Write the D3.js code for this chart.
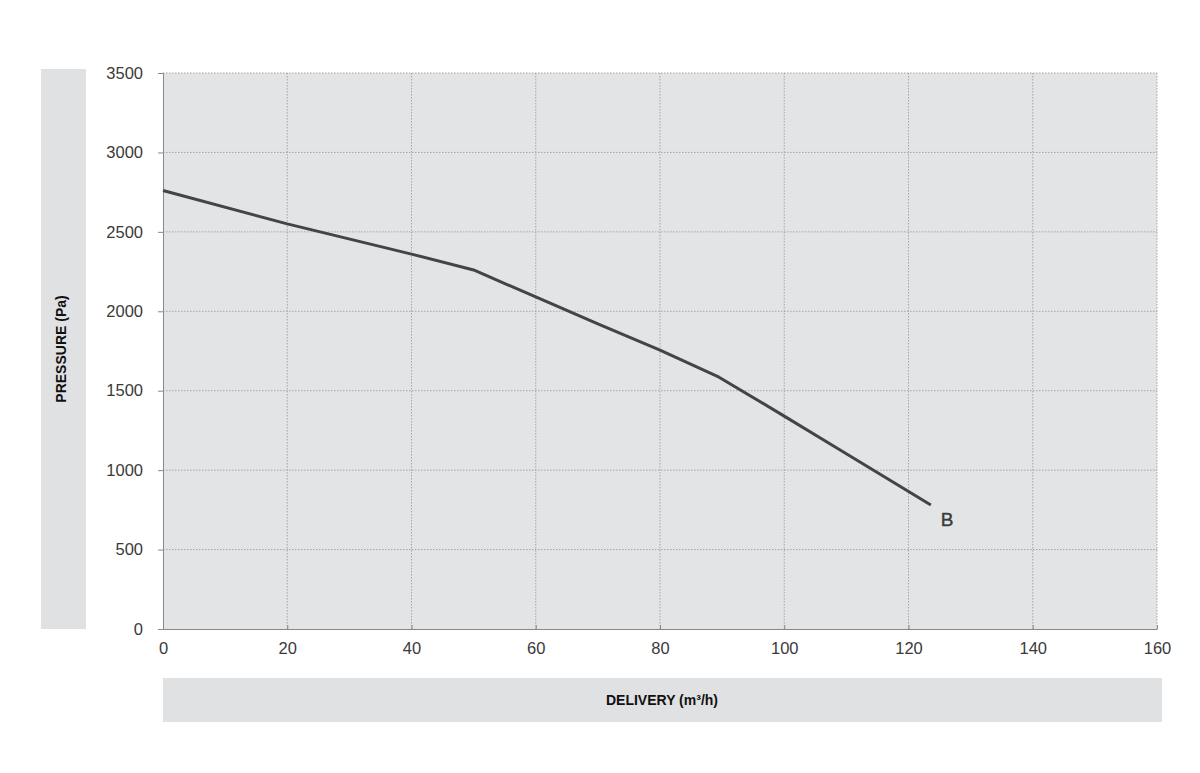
<!DOCTYPE html>
<html><head><meta charset="utf-8">
<script src="https://cdn.jsdelivr.net/npm/d3@7"></script>
<style>body{margin:0;background:#fff;} svg{display:block;}</style>
</head><body>
<script>
const xTicks = [0,20,40,60,80,100,120,140,160];
const yTicks = [0,500,1000,1500,2000,2500,3000,3500];
const deliveryVals = [0,20,40,50,60,70,80,89.5,100,108,123.6];
const pressureVals = [2760,2550,2360,2260,2090,1920,1755,1585,1340,1150,780];
const curveLabel = "B";
const xTitle = "DELIVERY (m³/h)";
const yTitle = "PRESSURE (Pa)";

const W=1200,H=773;
const svg=d3.select("body").append("svg").attr("width",W).attr("height",H);
const L=163,R=1157,T=73,B=629;
const x=d3.scaleLinear().domain([0,160]).range([L,R]);
const y=d3.scaleLinear().domain([0,3500]).range([B,T]);

// panels
svg.append("rect").attr("x",41).attr("y",69).attr("width",45).attr("height",560).attr("fill","#e0e1e3");
svg.append("rect").attr("x",163).attr("y",678).attr("width",999).attr("height",44).attr("fill","#e0e1e3");
svg.append("rect").attr("x",L).attr("y",T).attr("width",R-L).attr("height",B-T).attr("fill","#e3e4e6");

// grid
svg.append("g").selectAll("line").data(xTicks.slice(1)).join("line")
 .attr("x1",d=>x(d)).attr("x2",d=>x(d)).attr("y1",T).attr("y2",B)
 .attr("stroke","#a5a5a5").attr("stroke-width",1).attr("stroke-dasharray","1.5,1.5");
svg.append("g").selectAll("line").data(yTicks.slice(1)).join("line")
 .attr("x1",L).attr("x2",R).attr("y1",d=>y(d)).attr("y2",d=>y(d))
 .attr("stroke","#a5a5a5").attr("stroke-width",1).attr("stroke-dasharray","1.5,1.5");

// axes
const xAxis=svg.append("g").attr("transform",`translate(0,${B})`)
 .call(d3.axisBottom(x).tickValues(xTicks).tickFormat(d3.format("d")).tickSize(0).tickPadding(13));
xAxis.select(".domain").attr("stroke","#888");
const yAxis=svg.append("g").attr("transform",`translate(${L},0)`)
 .call(d3.axisLeft(y).tickValues(yTicks).tickFormat(d3.format("d")).tickSize(5).tickPadding(15));
yAxis.select(".domain").attr("stroke","#888");
yAxis.selectAll(".tick line").attr("stroke","#888");
svg.selectAll(".tick text").attr("font-family","'Liberation Sans',Arial,sans-serif")
 .attr("font-size",16.5).attr("fill","#3a3a3a");
xAxis.selectAll(".tick line").remove();
xAxis.selectAll(".tick").append("line").attr("y1",-4).attr("y2",0).attr("stroke","#888");

// curve
const pts=deliveryVals.map((d,i)=>[d,pressureVals[i]]);
svg.append("path").datum(pts)
 .attr("d",d3.line().x(d=>x(d[0])).y(d=>y(d[1])))
 .attr("fill","none").attr("stroke","#444446").attr("stroke-width",3).attr("stroke-linejoin","round");
const last=pts[pts.length-1];
svg.append("text").attr("x",x(last[0])+10).attr("y",y(last[1])+21)
 .attr("font-family","'Liberation Sans',Arial,sans-serif").attr("font-size",19).attr("fill","#3a3a3a")
 .attr("stroke","#3a3a3a").attr("stroke-width",0.4)
 .text(curveLabel);

// titles
svg.append("text").attr("x",662).attr("y",705).attr("text-anchor","middle")
 .attr("font-family","'Liberation Sans Narrow','Liberation Sans',Arial,sans-serif")
 .attr("font-weight","bold").attr("font-size",14).attr("fill","#111")
 .text(xTitle);
svg.append("text").attr("transform","translate(66,349) rotate(-90)").attr("text-anchor","middle")
 .attr("font-family","'Liberation Sans Narrow','Liberation Sans',Arial,sans-serif")
 .attr("font-weight","bold").attr("font-size",14).attr("fill","#111")
 .text(yTitle);
</script>
</body></html>
